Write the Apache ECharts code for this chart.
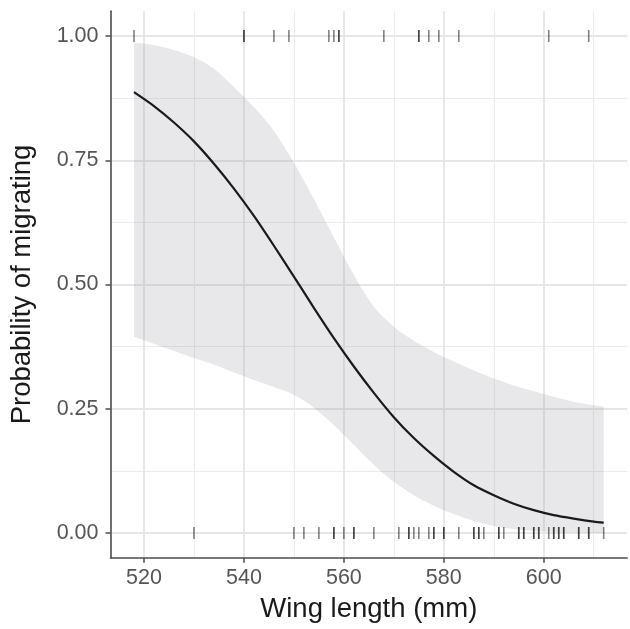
<!DOCTYPE html>
<html>
<head>
<meta charset="utf-8">
<script src="https://cdn.jsdelivr.net/npm/echarts@6/dist/echarts.min.js"></script>
<style>
html,body{margin:0;padding:0;background:#fff;}
#chart{width:630px;height:629px;}
</style>
</head>
<body>
<div id="chart"></div>
<script>
// Wing length grid for fitted curve and confidence band
const wingLength = [518, 522, 526, 530, 534, 538, 542, 546, 550, 554, 558, 562, 566, 570, 574, 578, 582, 586, 590, 594, 598, 602, 606, 610, 612];
const fitProb    = [0.887, 0.859, 0.826, 0.788, 0.743, 0.693, 0.638, 0.578, 0.516, 0.453, 0.392, 0.335, 0.282, 0.233, 0.191, 0.155, 0.123, 0.096, 0.076, 0.059, 0.046, 0.036, 0.029, 0.023, 0.021];
const upperCI    = [0.987, 0.982, 0.972, 0.957, 0.934, 0.897, 0.857, 0.809, 0.745, 0.672, 0.595, 0.519, 0.455, 0.415, 0.387, 0.364, 0.345, 0.327, 0.311, 0.297, 0.285, 0.274, 0.264, 0.257, 0.254];
const lowerCI    = [0.395, 0.381, 0.366, 0.352, 0.339, 0.323, 0.308, 0.294, 0.278, 0.252, 0.217, 0.177, 0.137, 0.103, 0.076, 0.055, 0.038, 0.024, 0.014, 0.008, 0.004, 0.002, 0.001, 0.0005, 0.0003];
// Observed birds: migrating (1) and not migrating (0)
const migrated    = [518, 540, 540, 546, 549, 557, 558, 559, 559, 568, 575, 575, 577, 579, 583, 601, 609];
const notMigrated = [530, 550, 552, 555, 558, 558, 560, 562, 562, 566, 571, 573, 573, 574, 575, 577, 578, 578, 580, 580, 583, 586, 586, 587, 587, 588, 591, 591, 592, 595, 595, 596, 596, 598, 598, 599, 599, 601, 602, 602, 603, 603, 604, 604, 607, 607, 609, 609, 612];
// Axis ticks
const xMajor = [520, 540, 560, 580, 600];
const xMinor = [530, 550, 570, 590, 610];
const yMajor = [0, 0.25, 0.5, 0.75, 1];
const yMinor = [0.125, 0.375, 0.625, 0.875];

const xMin = 513.3, xMax = 616.7, yMin = -0.05, yMax = 1.05;
const gridPos = {left: 110.5, right: 2.8, top: 11.15, bottom: 71.15};
const font = 'Liberation Sans, Arial, sans-serif';

const chart = echarts.init(document.getElementById('chart'), null, {renderer: 'canvas'});

function hiddenAxis(extra) {
  return Object.assign({
    type: 'value', axisLine: {show: false}, axisLabel: {show: false},
    axisTick: {show: false}
  }, extra);
}

// Catmull-Rom style smooth path segment commands through pixel points
function smoothSegments(pts, k) {
  let d = '';
  for (let i = 0; i < pts.length - 1; i++) {
    const p0 = pts[Math.max(i - 1, 0)], p1 = pts[i], p2 = pts[i + 1], p3 = pts[Math.min(i + 2, pts.length - 1)];
    const c1 = [p1[0] + (p2[0] - p0[0]) * k, p1[1] + (p2[1] - p0[1]) * k];
    const c2 = [p2[0] - (p3[0] - p1[0]) * k, p2[1] - (p3[1] - p1[1]) * k];
    d += ' C' + c1[0] + ',' + c1[1] + ' ' + c2[0] + ',' + c2[1] + ' ' + p2[0] + ',' + p2[1];
  }
  return d;
}

const option = {
  backgroundColor: '#ffffff',
  animation: false,
  grid: Object.assign({containLabel: false, outerBoundsMode: 'none'}, gridPos),
  xAxis: [
    {
      type: 'value', min: xMin, max: xMax, gridIndex: 0,
      axisLine: {show: true, onZero: false, lineStyle: {color: '#4d4d4d', width: 1.6}},
      axisTick: {show: true, length: 5, customValues: xMajor, lineStyle: {color: '#4d4d4d', width: 1.5}},
      axisLabel: {show: true, customValues: xMajor, margin: 9, color: '#555555', fontSize: 21.5, fontFamily: font,
                  formatter: v => String(v)},
      splitLine: {show: true, lineStyle: {color: '#e6e6e6', width: 1.8}}
    },
    hiddenAxis({min: xMin, max: xMax, position: 'bottom',
      axisTick: {show: false, customValues: xMinor},
      axisLabel: {show: false, customValues: xMinor},
      splitLine: {show: true, lineStyle: {color: '#ebebeb', width: 1.1}}})
  ],
  yAxis: [
    {
      type: 'value', min: yMin, max: yMax,
      axisLine: {show: true, onZero: false, lineStyle: {color: '#4d4d4d', width: 1.6}},
      axisTick: {show: true, length: 5, customValues: yMajor, lineStyle: {color: '#4d4d4d', width: 1.5}},
      axisLabel: {show: true, customValues: yMajor, margin: 12, color: '#555555', fontSize: 21.5, fontFamily: font,
                  formatter: v => Number(v).toFixed(2)},
      splitLine: {show: true, lineStyle: {color: '#e6e6e6', width: 1.8}}
    },
    hiddenAxis({min: yMin, max: yMax, position: 'left',
      axisTick: {show: false, customValues: yMinor},
      axisLabel: {show: false, customValues: yMinor},
      splitLine: {show: true, lineStyle: {color: '#ebebeb', width: 1.1}}})
  ],
  series: [
    {
      type: 'custom', name: 'band', xAxisIndex: 0, yAxisIndex: 0, silent: true, z: 2,
      data: [[wingLength[0], upperCI[0]]],
      renderItem: function (params, api) {
        const up = wingLength.map((x, i) => api.coord([x, upperCI[i]]));
        const lo = wingLength.map((x, i) => api.coord([x, lowerCI[i]])).reverse();
        let d = 'M' + up[0][0] + ',' + up[0][1] + smoothSegments(up, 1 / 6);
        d += ' L' + lo[0][0] + ',' + lo[0][1] + smoothSegments(lo, 1 / 6) + ' Z';
        return {
          type: 'path',
          shape: {pathData: d},
          style: {fill: 'rgba(150,150,158,0.22)'}
        };
      }
    },
    {
      type: 'line', name: 'fit', xAxisIndex: 0, yAxisIndex: 0,
      data: wingLength.map((x, i) => [x, fitProb[i]]),
      symbol: 'none', smooth: 0.25,
      lineStyle: {color: '#1a1a1a', width: 2.2}, z: 4
    },
    {
      type: 'scatter', name: 'obs', xAxisIndex: 0, yAxisIndex: 0,
      data: migrated.map(x => [x, 1]).concat(notMigrated.map(x => [x, 0])),
      symbol: 'rect', symbolSize: [1.6, 12],
      itemStyle: {color: 'rgba(0,0,0,0.62)'}, z: 5
    }
  ],
  graphic: [
    {
      type: 'text', x: 368.8, y: 609,
      style: {text: 'Wing length (mm)', font: '27.5px ' + font, fill: '#1a1a1a',
              textAlign: 'center', textVerticalAlign: 'middle'}
    },
    {
      type: 'text', x: 22, y: 284.5, rotation: Math.PI / 2,
      style: {text: 'Probability of migrating', font: '27.5px ' + font, fill: '#1a1a1a',
              textAlign: 'center', textVerticalAlign: 'middle'}
    }
  ]
};
chart.setOption(option);
</script>
</body>
</html>
